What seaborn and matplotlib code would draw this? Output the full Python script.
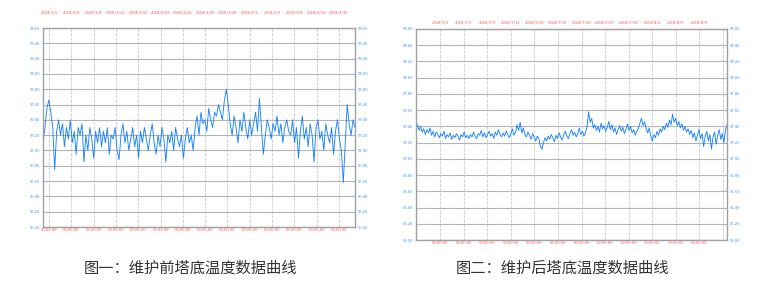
import numpy as np
import pandas as pd
import matplotlib
matplotlib.use("Agg")
import matplotlib.pyplot as plt
import seaborn as sns

# ---------------- data ----------------
before_values = [
    97.10, 97.30, 97.55, 97.66, 97.50, 97.30, 96.75, 97.25, 97.40,
    97.20, 97.35, 97.05, 97.30, 97.15, 97.40, 97.10, 97.25, 96.95, 97.30, 97.20,
    97.35, 96.85, 97.20, 97.00, 97.30, 97.15, 96.90, 97.25, 97.10, 97.30,
    97.05, 97.25, 97.10, 97.30, 96.95, 97.20, 97.15, 97.30, 97.00, 96.88,
    97.20, 97.35, 97.10, 97.25, 97.00, 97.15, 97.30, 97.05, 97.20, 96.90,
    97.25, 97.10, 97.30, 97.15, 97.00, 97.20, 97.35, 97.10, 96.95, 97.20,
    97.05, 97.30, 97.15, 96.85, 97.20, 97.10, 97.25, 97.00, 97.30, 97.15,
    97.05, 97.20, 96.90, 97.15, 97.30, 97.10,
    97.20, 97.00, 97.30, 97.45, 97.20, 97.50, 97.35, 97.40, 97.25, 97.55,
    97.40, 97.30, 97.50, 97.45, 97.60, 97.50, 97.40, 97.65, 97.80, 97.60,
    97.35, 97.20, 97.45, 97.30, 97.10, 97.40, 97.25, 97.50, 97.30, 97.15,
    97.40, 97.20, 97.35, 97.50, 97.25, 97.68, 97.30, 96.95, 97.20, 97.40,
    97.30, 97.15, 97.35, 97.25, 97.45, 97.20, 97.35, 97.10, 97.30, 97.40, 97.25,
    97.20, 97.40, 97.10, 97.30, 96.90, 97.25, 97.45, 97.15, 97.30, 97.05,
    97.35, 97.20, 96.85, 97.30, 97.40, 97.15, 97.25, 97.00, 97.35, 97.20,
    97.10, 97.30, 96.95, 97.25, 97.40, 97.15,
    97.00, 96.58, 97.10, 97.60, 97.35, 97.20, 97.40, 97.30,
]

after_values = [
    97.38, 97.42, 97.35, 97.40, 97.33, 97.37, 97.30, 97.36, 97.32, 97.38,
    97.29, 97.34, 97.27, 97.33, 97.30, 97.26, 97.31, 97.28, 97.34, 97.25,
    97.30, 97.27, 97.32, 97.24, 97.29, 97.26, 97.31, 97.28, 97.23, 97.30,
    97.27, 97.33, 97.26, 97.29, 97.25,
    97.30, 97.27, 97.33, 97.28, 97.25, 97.31, 97.29, 97.35, 97.27, 97.32,
    97.26, 97.30, 97.34, 97.28, 97.31, 97.25, 97.33, 97.29, 97.36, 97.30,
    97.27, 97.32, 97.28, 97.34, 97.30, 97.26, 97.31, 97.37, 97.29, 97.33,
    97.42, 97.35, 97.45, 97.32, 97.38, 97.30, 97.27, 97.33, 97.29, 97.24,
    97.31, 97.27, 97.22, 97.28, 97.25,
    97.15, 97.12, 97.20, 97.26, 97.22, 97.28, 97.24, 97.30, 97.26, 97.21,
    97.29, 97.25, 97.32, 97.27, 97.23, 97.30, 97.34, 97.28, 97.25, 97.31,
    97.36, 97.29, 97.33, 97.27, 97.31, 97.38, 97.30, 97.34, 97.28, 97.32,
    97.40, 97.58,
    97.45, 97.50, 97.38, 97.42, 97.35, 97.40, 97.33, 97.44, 97.37, 97.41,
    97.34, 97.39, 97.46, 97.36, 97.42, 97.33, 97.38, 97.30, 97.36, 97.41,
    97.34, 97.39, 97.31, 97.37, 97.43, 97.35, 97.40, 97.32, 97.36, 97.29,
    97.34, 97.38,
    97.44, 97.50, 97.41, 97.46, 97.37, 97.32, 97.38, 97.28, 97.22, 97.30,
    97.26, 97.34, 97.29, 97.37, 97.33, 97.40, 97.36, 97.44, 97.39, 97.48,
    97.42, 97.55, 97.45, 97.50, 97.41, 97.46, 97.38, 97.43, 97.35, 97.40,
    97.33, 97.37,
    97.30, 97.35, 97.26, 97.32, 97.22, 97.29, 97.36, 97.25, 97.31, 97.15,
    97.28, 97.34, 97.22, 97.30, 97.12, 97.27, 97.33, 97.18, 97.29, 97.36,
    97.24, 97.31, 97.20, 97.35, 97.42,
]

y_ticks = [96.00, 96.20, 96.40, 96.60, 96.80, 97.00, 97.20,
           97.40, 97.60, 97.80, 98.00, 98.20, 98.40, 98.60]

before_dates = ["2018/1/1", "2018/1/4", "2018/1/8", "2018/1/11", "2018/1/15",
                "2018/1/18", "2018/1/22", "2018/1/25", "2018/1/29", "2018/2/1",
                "2018/2/5", "2018/2/8", "2018/2/12", "2018/2/15"]
before_times = ["00:00:00"] * 14

after_dates = ["2018/7/2", "2018/7/5", "2018/7/9", "2018/7/12", "2018/7/16",
               "2018/7/19", "2018/7/23", "2018/7/26", "2018/7/30", "2018/8/2",
               "2018/8/6", "2018/8/9"]
after_times = ["00:00:00"] * 12

captions = ["图一：维护前塔底温度数据曲线", "图二：维护后塔底温度数据曲线"]

# ---------------- style ----------------
sns.set_theme(style="white")
plt.rcParams["font.family"] = ["Noto Sans CJK SC", "DejaVu Sans"]

LINE = "#1a84ff"
YLAB = "#3d96ff"
XLAB = "#ff4d4d"
W, H = 774, 300

fig = plt.figure(figsize=(W / 100, H / 100), dpi=100)


def make_panel(px_left, px_right, px_top, px_bottom, values, dates, times,
               grid_first, grid_last, n_grid, n_labels, top_pad, caption, cap_x):
    ax = fig.add_axes([px_left / W, 1 - px_bottom / H,
                       (px_right - px_left) / W, (px_bottom - px_top) / H])
    df = pd.DataFrame({"idx": np.arange(len(values)), "temp": values})
    sns.lineplot(data=df, x="idx", y="temp", ax=ax, color=LINE, linewidth=0.65)
    n = len(values) - 1
    ax.set_xlim(0, n)
    ax.set_ylim(y_ticks[0], y_ticks[-1])
    gx = np.linspace(grid_first, grid_last, n_grid)
    xt = (gx - px_left) / (px_right - px_left) * n
    ax.set_xticks(xt)
    ax.set_xticklabels(list(times) + [""] * (n_grid - n_labels))
    ax.set_yticks(y_ticks)
    ax.set_yticklabels([f"{v:.2f}" for v in y_ticks])
    ax.set_xlabel("")
    ax.set_ylabel("")
    ax.grid(axis="y", color="#b4b4b4", linewidth=0.8, linestyle="-")
    ax.grid(axis="x", color="#d4d4d4", linewidth=0.8, linestyle=(0, (3, 1)))
    for s in ax.spines.values():
        s.set_color("#a0a0a0")
        s.set_linewidth(1.0)
    ax.tick_params(axis="x", length=0, pad=1, labelsize=3, labelcolor=XLAB)
    ax.tick_params(axis="y", length=0, pad=2, labelsize=3, labelcolor=YLAB)

    top = ax.secondary_xaxis("top")
    top.set_xticks(xt)
    top.set_xticklabels(list(dates) + [""] * (n_grid - n_labels))
    top.tick_params(length=0, pad=top_pad, labelsize=3, labelcolor=XLAB)
    top.spines["top"].set_visible(False)

    right = ax.secondary_yaxis("right")
    right.set_yticks(y_ticks)
    right.set_yticklabels([f"{v:.2f}" for v in y_ticks])
    right.tick_params(length=0, pad=2, labelsize=3, labelcolor=YLAB)
    right.spines["right"].set_visible(False)

    fig.text(cap_x / W, 1 - 268 / H, caption, ha="center", va="center",
             fontsize=11, color="#333333")
    return ax


make_panel(43, 355, 28, 227, before_values, before_dates, before_times,
           49, 339, 14, 14, 10, captions[0], 190)
make_panel(416, 727, 29, 240, after_values, after_dates, after_times,
           440, 723, 13, 12, 3, captions[1], 562)

fig.savefig("out.png", dpi=100)
